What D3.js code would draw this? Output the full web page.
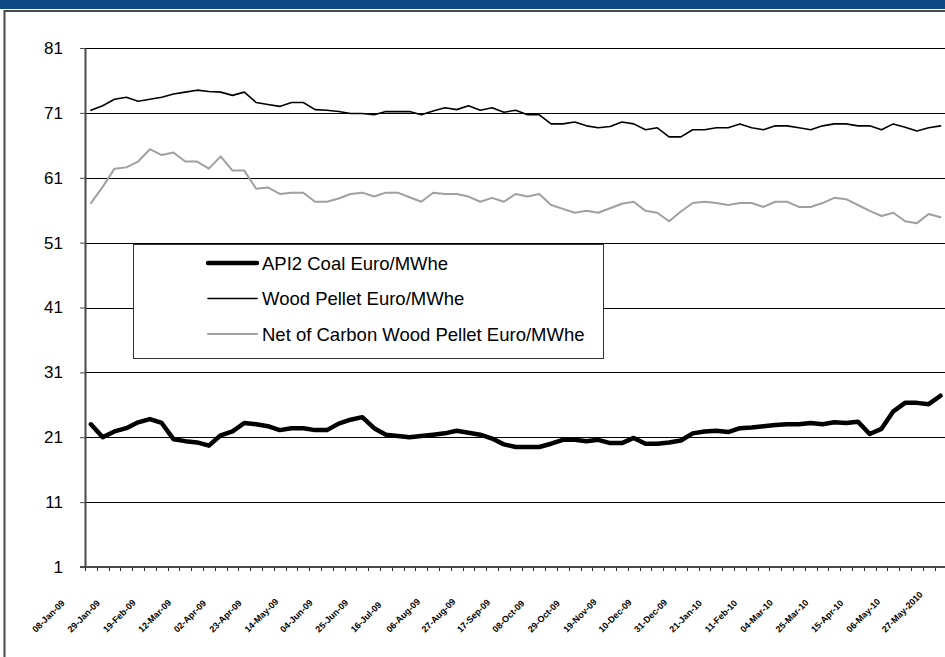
<!DOCTYPE html>
<html>
<head>
<meta charset="utf-8">
<script src="https://cdn.jsdelivr.net/npm/d3@7"></script>
<style>
  html, body { margin: 0; padding: 0; background: #fff; overflow: hidden; }
  text { font-family: Arial, "Liberation Sans", sans-serif; }
</style>
</head>
<body>
<svg id="chart" width="945" height="657"></svg>
<script>
// Weekly price observations (Thursdays), Jan 2009 - May 2010
const categories = [
  "2009-01-08","2009-01-15","2009-01-22","2009-01-29","2009-02-05","2009-02-12","2009-02-19","2009-02-26",
  "2009-03-05","2009-03-12","2009-03-19","2009-03-26","2009-04-02","2009-04-09","2009-04-16","2009-04-23",
  "2009-04-30","2009-05-07","2009-05-14","2009-05-21","2009-05-28","2009-06-04","2009-06-11","2009-06-18",
  "2009-06-25","2009-07-02","2009-07-09","2009-07-16","2009-07-23","2009-07-30","2009-08-06","2009-08-13",
  "2009-08-20","2009-08-27","2009-09-03","2009-09-10","2009-09-17","2009-09-24","2009-10-01","2009-10-08",
  "2009-10-15","2009-10-22","2009-10-29","2009-11-05","2009-11-12","2009-11-19","2009-11-26","2009-12-03",
  "2009-12-10","2009-12-17","2009-12-24","2009-12-31","2010-01-07","2010-01-14","2010-01-21","2010-01-28",
  "2010-02-04","2010-02-11","2010-02-18","2010-02-25","2010-03-04","2010-03-11","2010-03-18","2010-03-25",
  "2010-04-01","2010-04-08","2010-04-15","2010-04-22","2010-04-29","2010-05-06","2010-05-13","2010-05-20",
  "2010-05-27"
];

// Axis labels shown on every third week
const tickLabels = [
  "08-Jan-09","29-Jan-09","19-Feb-09","12-Mar-09","02-Apr-09","23-Apr-09","14-May-09","04-Jun-09",
  "25-Jun-09","16-Jul-09","06-Aug-09","27-Aug-09","17-Sep-09","08-Oct-09","29-Oct-09","19-Nov-09",
  "10-Dec-09","31-Dec-09","21-Jan-10","11-Feb-10","04-Mar-10","25-Mar-10","15-Apr-10","06-May-10",
  "27-May-2010"
];

const coal = [
  23.0, 21.0, 21.9, 22.4, 23.3, 23.8, 23.2, 20.7, 20.4, 20.2, 19.7, 21.3, 21.9, 23.2, 23.0, 22.7,
  22.1, 22.4, 22.4, 22.1, 22.1, 23.1, 23.7, 24.1, 22.4, 21.4, 21.2, 21.0, 21.2, 21.4, 21.6, 22.0,
  21.7, 21.4, 20.8, 19.9, 19.5, 19.5, 19.5, 20.0, 20.6, 20.6, 20.4, 20.6, 20.1, 20.1, 20.9, 20.0,
  20.0, 20.2, 20.5, 21.6, 21.9, 22.0, 21.8, 22.4, 22.5, 22.7, 22.9, 23.0, 23.0, 23.2, 23.0, 23.3,
  23.2, 23.4, 21.5, 22.3, 25.0, 26.3, 26.3, 26.1, 27.4
];

const woodPellet = [
  71.4, 72.1, 73.1, 73.4, 72.8, 73.1, 73.4, 73.9, 74.2, 74.5, 74.3, 74.2, 73.7, 74.2, 72.6, 72.3,
  72.0, 72.6, 72.6, 71.5, 71.4, 71.2, 70.9, 70.9, 70.7, 71.2, 71.2, 71.2, 70.7, 71.3, 71.8, 71.5,
  72.1, 71.4, 71.8, 71.1, 71.4, 70.7, 70.7, 69.3, 69.3, 69.6, 69.0, 68.7, 68.9, 69.6, 69.3, 68.4,
  68.7, 67.3, 67.3, 68.4, 68.4, 68.7, 68.7, 69.3, 68.7, 68.4, 69.0, 69.0, 68.7, 68.4, 69.0, 69.3,
  69.3, 69.0, 69.0, 68.4, 69.3, 68.8, 68.2, 68.7, 69.0
];

const netOfCarbon = [
  57.1, 59.6, 62.4, 62.6, 63.5, 65.4, 64.5, 64.9, 63.5, 63.5, 62.4, 64.3, 62.1, 62.1, 59.3, 59.5,
  58.5, 58.7, 58.7, 57.3, 57.3, 57.8, 58.5, 58.7, 58.1, 58.7, 58.7, 58.0, 57.3, 58.7, 58.5, 58.5,
  58.1, 57.3, 57.9, 57.3, 58.5, 58.1, 58.5, 56.8, 56.2, 55.6, 55.9, 55.6, 56.3, 57.0, 57.3, 55.9,
  55.6, 54.3, 55.8, 57.1, 57.3, 57.1, 56.8, 57.1, 57.1, 56.5, 57.3, 57.3, 56.5, 56.5, 57.1, 57.9,
  57.7, 56.8, 55.9, 55.1, 55.6, 54.3, 54.0, 55.4, 54.9
];

const yTicks = [1, 11, 21, 31, 41, 51, 61, 71, 81];
const seriesNames = [
  "API2 Coal Euro/MWhe",
  "Wood Pellet Euro/MWhe",
  "Net of Carbon Wood Pellet Euro/MWhe"
];

const svg = d3.select("#chart");
const W = 945, H = 657;
const plot = { left: 85, top: 48, bottom: 567, right: 85 + categories.length * 11.8 };

const x = d3.scaleBand().domain(categories).range([plot.left, plot.right]).padding(0);
const y = d3.scaleLinear().domain([1, 81]).range([plot.bottom, plot.top]);
const bw = x.bandwidth();
const cx = c => x(c) + bw / 2;

// Header strip and chart frame
svg.append("rect").attr("x", 0).attr("y", 0).attr("width", W).attr("height", 9).attr("fill", "#0e4a86");
svg.append("path").attr("d", `M4.5,${H} V11 H${W}`).attr("fill", "none")
  .attr("stroke", "#4a4a4a").attr("stroke-width", 2);

// Horizontal gridlines
svg.append("g").selectAll("line").data(yTicks.filter(t => t > 1)).join("line")
  .attr("x1", plot.left).attr("x2", plot.right)
  .attr("y1", d => Math.round(y(d)) + 0.5).attr("y2", d => Math.round(y(d)) + 0.5)
  .attr("stroke", "#000").attr("stroke-width", 1);

// Y axis
const yAxis = svg.append("g").attr("transform", `translate(${plot.left},0)`)
  .call(d3.axisLeft(y).tickValues(yTicks).tickSizeInner(5).tickSizeOuter(0).tickPadding(17).tickFormat(d3.format("d")));
yAxis.select(".domain").attr("stroke", "#4a4a4a").attr("stroke-width", 2);
yAxis.selectAll(".tick line").attr("stroke", "#4a4a4a").attr("stroke-width", 1);
yAxis.selectAll(".tick text").attr("font-size", 17).attr("fill", "#000")
  .attr("font-family", "Arial, 'Liberation Sans', sans-serif");

// X axis line and tick marks at category boundaries
svg.append("line").attr("x1", plot.left - 5).attr("x2", W).attr("y1", plot.bottom).attr("y2", plot.bottom)
  .attr("stroke", "#4a4a4a").attr("stroke-width", 2);
svg.append("g").selectAll("line").data(categories.map(c => x(c)).concat([plot.right])).join("line")
  .attr("x1", d => Math.round(d) + 0.5).attr("x2", d => Math.round(d) + 0.5)
  .attr("y1", plot.bottom).attr("y2", plot.bottom + 4)
  .attr("stroke", "#333").attr("stroke-width", 1);

// Rotated date labels every third week
const labelCats = categories.filter((c, i) => i % 3 === 0);
svg.append("g").selectAll("text").data(labelCats).join("text")
  .attr("transform", c => `translate(${cx(c) - 55},633) rotate(-45)`)
  .attr("text-anchor", "start")
  .attr("font-size", 9)
  .attr("font-weight", "bold")
  .attr("fill", "#000")
  .text((c, i) => tickLabels[i]);

// Legend box
const lg = svg.append("g");
lg.append("rect").attr("x", 133.5).attr("y", 244.5).attr("width", 470).attr("height", 114)
  .attr("fill", "#fff").attr("stroke", "#333").attr("stroke-width", 1);
const legendStyles = [
  { stroke: "#000", width: 4.5 },
  { stroke: "#000", width: 1.6 },
  { stroke: "#a0a0a0", width: 2 }
];
seriesNames.forEach((name, i) => {
  const ly = 263 + i * 35.5;
  lg.append("line").attr("x1", 208).attr("x2", 257).attr("y1", ly).attr("y2", ly)
    .attr("stroke", legendStyles[i].stroke).attr("stroke-width", legendStyles[i].width)
    .attr("stroke-linecap", "round");
  lg.append("text").attr("x", 262).attr("y", ly + 6.5).attr("font-size", 18.5).attr("fill", "#000").text(name);
});

// Series lines
const line = d3.line().x((d, i) => cx(categories[i])).y(d => y(d));
const series = [
  { values: netOfCarbon, stroke: "#a0a0a0", width: 2 },
  { values: woodPellet, stroke: "#000", width: 1.6 },
  { values: coal, stroke: "#000", width: 4.5 }
];
svg.append("g").selectAll("path").data(series).join("path")
  .attr("d", s => line(s.values))
  .attr("fill", "none")
  .attr("stroke", s => s.stroke)
  .attr("stroke-width", s => s.width)
  .attr("stroke-linejoin", "round")
  .attr("stroke-linecap", "round");
</script>
</body>
</html>
